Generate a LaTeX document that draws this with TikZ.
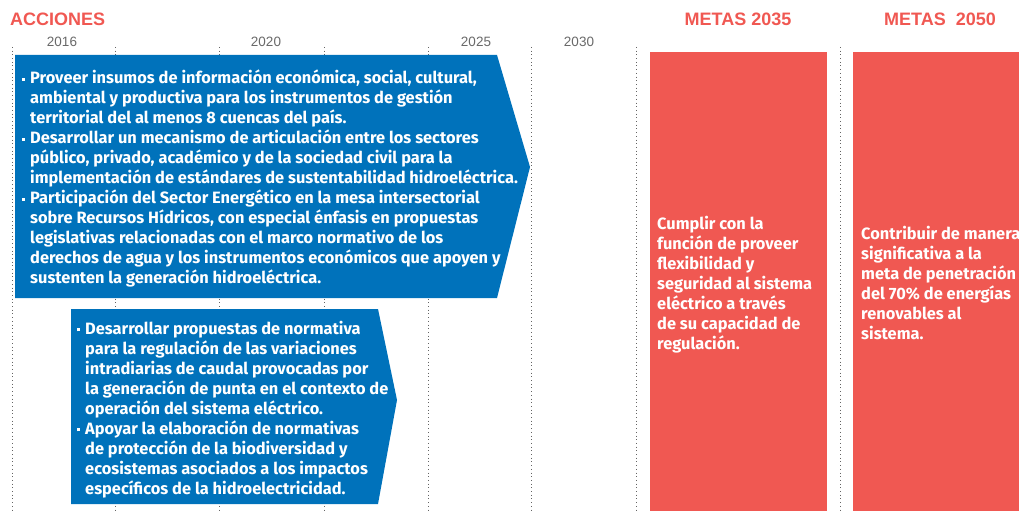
\documentclass[tikz,border=0pt]{standalone}
\usepackage{fontspec}
\setmainfont{Fira Sans}
\newfontfamily\titlefont{Liberation Sans}
\usetikzlibrary{positioning}
\definecolor{accionblue}{RGB}{0, 114, 187}
\definecolor{metared}{RGB}{240, 88, 82}
\definecolor{yeargray}{RGB}{105, 105, 105}
\definecolor{dotgray}{RGB}{100, 100, 100}
\newcommand{\itembullet}{\llap{\rule[3.2pt]{3pt}{3pt}\hspace{5.5pt}}}
\tikzset{
  heading/.style={
    text=metared,
    font=\titlefont\bfseries\fontsize{18}{20}\selectfont,
    inner sep=0pt
  },
  yearlabel/.style={
    text=yeargray,
    font=\titlefont\fontsize{13.5}{15}\selectfont,
    inner sep=0pt
  },
  gridline/.style={dotgray, line width=0.9pt, dash pattern=on 0.9pt off 2.8pt},
  bodytext/.style={
    text=white, inner sep=0pt, align=left, anchor=north west,
    font=\bfseries\fontsize{16.4}{20}\selectfont
  },
  metabox/.style={fill=metared, inner sep=0pt, anchor=north west}
}

\begin{document}
\begin{tikzpicture}[x=1pt, y=-1pt]
\useasboundingbox (0,0) rectangle (1019,511);

% Headings
\node[heading, anchor=west] (acciones) at (10, 19) {ACCIONES};
\node[heading] (metas35) at (738, 19) {METAS 2035};
\node[heading] (metas50) at (940, 19) {METAS\ \ 2050};

% Years
\node[yearlabel] (y2016) at (62, 42) {2016};
\node[yearlabel] (y2020) at (266, 42) {2020};
\node[yearlabel] (y2025) at (476, 42) {2025};
\node[yearlabel] (y2030) at (579, 42) {2030};

% Dotted grid
\foreach \gx in {12, 115, 219, 324, 428, 531, 636, 840}
  \draw[gridline] (\gx, 47) -- (\gx, 511);

% Action arrows
\fill[accionblue] (15,55) -- (497,55) -- (530,167) -- (497,298) -- (15,298) -- cycle;
\fill[accionblue] (71,309) -- (378,309) -- (397,400) -- (378,504) -- (71,504) -- cycle;

\node[bodytext] (acc1) at (30, 70) {%
\itembullet Proveer insumos de información económica, social, cultural,\\
ambiental y productiva para los instrumentos de gestión\\
territorial del al menos 8 cuencas del país.\\
\itembullet Desarrollar un mecanismo de articulación entre los sectores\\
público, privado, académico y de la sociedad civil para la\\
implementación de estándares de sustentabilidad hidroeléctrica.\\
\itembullet Participación del Sector Energético en la mesa intersectorial\\
sobre Recursos Hídricos, con especial énfasis en propuestas\\
legislativas relacionadas con el marco normativo de los\\
derechos de agua y los instrumentos económicos que apoyen y\\
sustenten la generación hidroeléctrica.};

\node[bodytext] (acc2) at (85, 321) {%
\itembullet Desarrollar propuestas de normativa\\
para la regulación de las variaciones\\
intradiarias de caudal provocadas por\\
la generación de punta en el contexto de\\
operación del sistema eléctrico.\\
\itembullet Apoyar la elaboración de normativas\\
de protección de la biodiversidad y\\
ecosistemas asociados a los impactos\\
específicos de la hidroelectricidad.};

% Goals
\node[metabox, minimum width=177pt, minimum height=459pt] (box35) at (650, 52) {};
\node[metabox, minimum width=166pt, minimum height=459pt] (box50) at (853, 52) {};

\node[bodytext] (meta35txt) at (657, 216) {%
Cumplir con la\\
función de proveer\\
flexibilidad y\\
seguridad al sistema\\
eléctrico a través\\
de su capacidad de\\
regulación.};

\node[bodytext] (meta50txt) at (861, 226) {%
Contribuir de manera\\
significativa a la\\
meta de penetración\\
del 70\% de energías\\
renovables al\\
sistema.};

\end{tikzpicture}
\end{document}
